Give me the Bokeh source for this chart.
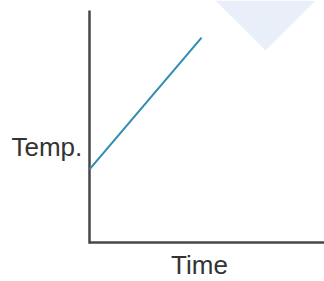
from bokeh.plotting import figure
from bokeh.models import Label, Range1d
from bokeh.embed import file_html
from bokeh.resources import INLINE

# data
time = [0.0, 4.77]
temp = [3.02, 8.47]
# axis extents (data units)
x_axis_end = 10.0
y_axis_end = 9.59
# decorative background triangle (data coords)
tri_x = [5.36, 9.62, 7.49]
tri_y = [10.0, 10.0, 7.93]
x_label = "Time"
y_label = "Temp."

p = figure(width=324, height=281, output_backend="svg", toolbar_location=None,
           x_range=Range1d(-3.787, 10), y_range=Range1d(-1.612, 10),
           min_border=0)
p.outline_line_color = None
p.grid.visible = False
p.axis.visible = False
p.background_fill_color = "white"
p.border_fill_color = "white"

p.patch(tri_x, tri_y, fill_color="#e8eff8", line_color=None)
# axes lines
p.segment(x0=[0, 0], y0=[-0.05, 0], x1=[0, x_axis_end], y1=[y_axis_end, 0],
          line_color="#474747", line_width=2.5)
p.line(time, temp, line_color="#2f8db0", line_width=2)

p.add_layout(Label(x=11, y=135, x_units="screen", y_units="screen", text=y_label,
                   text_font="Liberation Sans", text_font_size="26px", text_color="#333333",
                   text_align="left", text_baseline="alphabetic"))
p.add_layout(Label(x=199, y=17, x_units="screen", y_units="screen", text=x_label,
                   text_font="Liberation Sans", text_font_size="26px", text_color="#333333",
                   text_align="center", text_baseline="alphabetic"))

open("out.html", "w").write(file_html(p, INLINE))
